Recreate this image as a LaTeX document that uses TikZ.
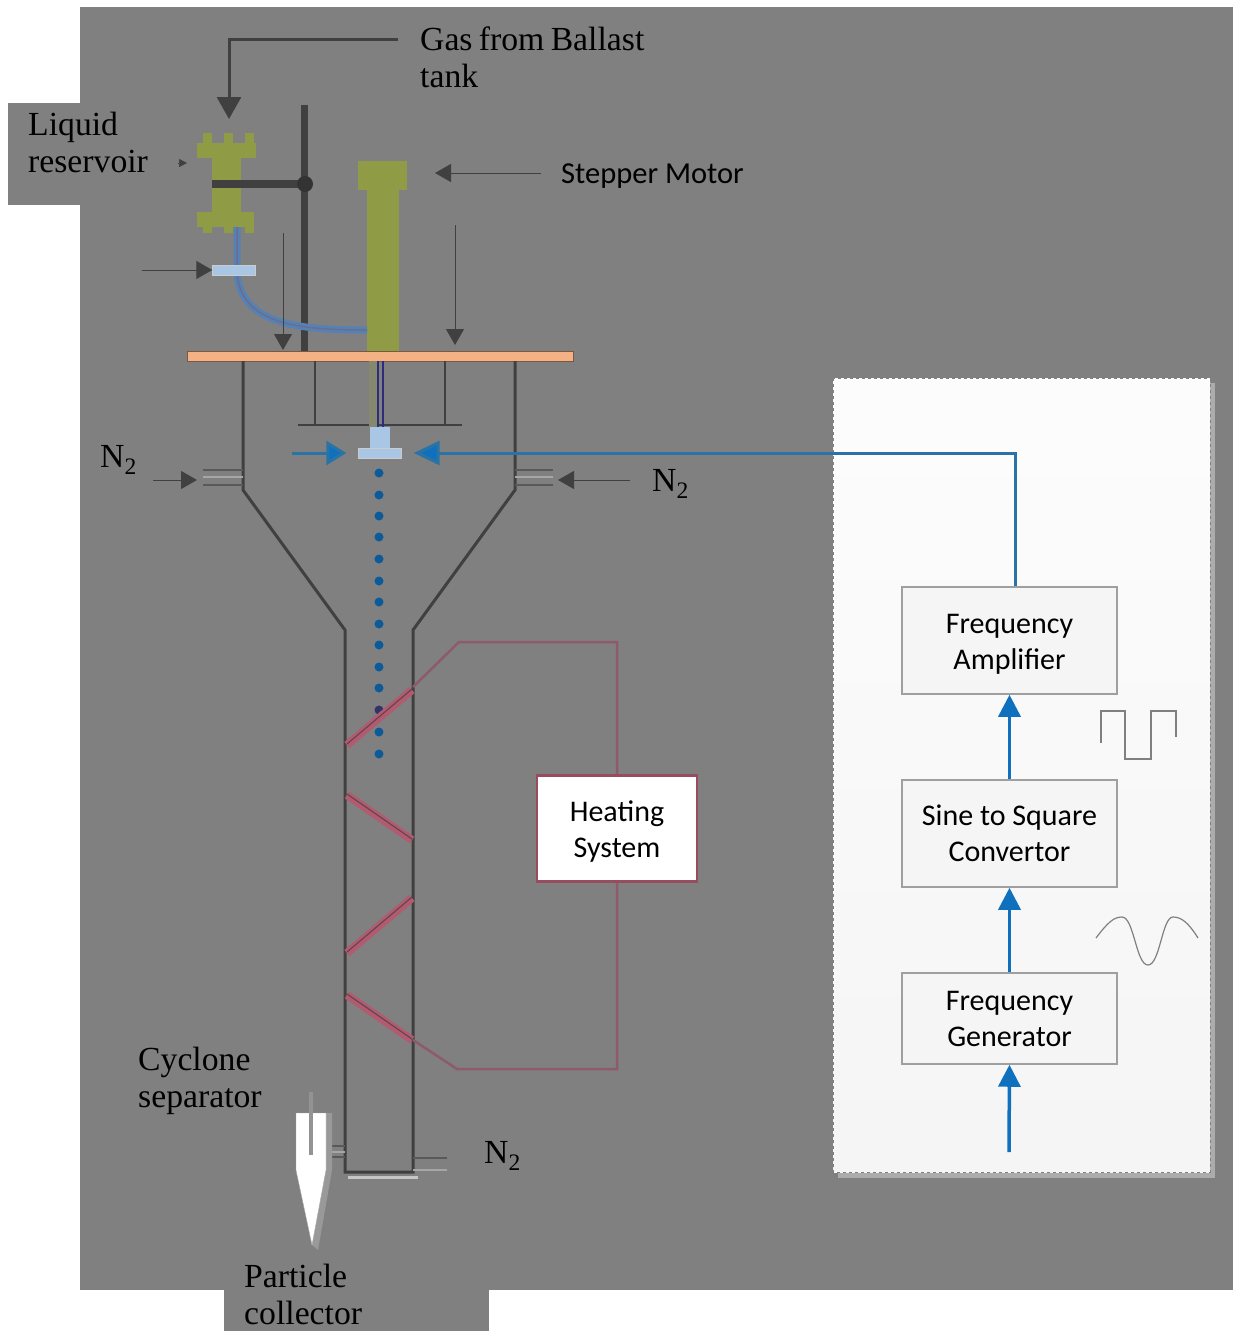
\documentclass[tikz,border=0pt]{standalone}
\usepackage{fontspec}
\usepackage{xcolor}
\setmainfont[WordSpace=0.75]{Liberation Serif}
\newfontfamily\boxfont{Carlito}
\usetikzlibrary{arrows.meta}

\definecolor{backgray}{HTML}{808080}
\definecolor{wallgray}{HTML}{404040}
\definecolor{olivebody}{HTML}{8F9C45}
\definecolor{platecolor}{HTML}{F4B183}
\definecolor{nozzleblue}{HTML}{A9C6E4}
\definecolor{flowblue}{HTML}{0F70BE}
\definecolor{wireblue}{HTML}{2A73A6}
\definecolor{tubeblue}{HTML}{5482B4}
\definecolor{heatred}{HTML}{B25A70}
\definecolor{wirered}{HTML}{8F5A6C}

\tikzset{
    labeltext/.style={align=left, anchor=west, inner sep=0pt, font=\fontsize{33.7}{37}\selectfont},
    blocktext/.style={draw=gray!75, line width=1.5pt, fill=black!4, align=center, minimum width=215pt, inner sep=0pt, font=\boxfont\fontsize{30}{36}\selectfont},
    thinarrow/.style={draw=wallgray, line width=1pt, -{Triangle[length=16pt,width=18pt]}},
    flowarrow/.style={draw=flowblue, line width=3.5pt, -{Triangle[length=22pt,width=22pt]}},
    signalarrow/.style={draw=wireblue, line width=3pt},
    coilband/.style={draw=heatred, line width=8pt},
    coilcore/.style={draw=wallgray!80!heatred, line width=1pt},
    portdark/.style={draw=black!65, line width=1.5pt},
    portlight/.style={draw=gray!70, line width=1.5pt}
}

\begin{document}
\begin{tikzpicture}[x=1pt,y=-1pt]
    \useasboundingbox (0,0) rectangle (1235,1331);

    % Draw the backing areas
    \fill[backgray] (80,7) rectangle (1233,1290);
    \fill[backgray] (8,103) rectangle (80,205);
    \fill[backgray] (224,1290) rectangle (489,1331);
    \fill[gray!65] (838,1172) rectangle (1215,1178);
    \fill[gray!65] (1210,383) rectangle (1215,1178);
    \shade[top color=black!1, bottom color=black!4] (833,378) rectangle (1210,1172);
    \draw[gray, dashed] (833,378) rectangle (1210,1172);

    % Draw the post and the liquid reservoir
    \fill[olivebody] (197,143) rectangle (256,158);
    \fill[olivebody] (203,133) rectangle (212,143);
    \fill[olivebody] (224,133) rectangle (233,143);
    \fill[olivebody] (245,133) rectangle (254,143);
    \fill[olivebody] (212,158) rectangle (241,212);
    \fill[olivebody] (197,212) rectangle (254,227);
    \fill[olivebody] (203,227) rectangle (212,233);
    \fill[olivebody] (224,227) rectangle (233,233);
    \fill[olivebody] (245,227) rectangle (254,233);
    \draw[wallgray, line width=7pt] (304,105) -- (304,351);
    \draw[wallgray, line width=8pt] (212,184) -- (302,184);
    \fill[wallgray!80!black] (305,184) circle (8);

    % Draw the stepper motor
    \fill[olivebody] (358,161) rectangle (407,190);
    \fill[olivebody] (367,190) rectangle (399,351);

    % Draw the liquid tube and its valve
    \draw[tubeblue, line width=7pt] (237,227) -- (237,272) .. controls (240,325) and (300,330) .. (367,330);
    \draw[gray!85!blue, line width=1.5pt] (237,227) -- (237,272) .. controls (240,325) and (300,330) .. (367,330);
    \node[draw=gray!40, fill=nozzleblue, minimum width=43pt, minimum height=10pt, inner sep=0pt] (valve) at (234,270) {};

    % Draw the plate
    \fill[platecolor, draw=black!50!platecolor] (187,351) rectangle (573,361);

    % Draw the vessel
    \draw[wallgray, line width=3pt] (243,361) -- (243,490) -- (345,630) -- (345,1172) -- (413,1172) -- (413,630) -- (515,490) -- (515,361);
    \draw[wallgray, line width=2.5pt] (315,361) -- (315,425);
    \draw[wallgray, line width=2.5pt] (445,361) -- (445,425);
    \draw[wallgray, line width=2pt] (298,425) -- (462,425);
    \draw[gray!70!olivebody, line width=8pt] (373,361) -- (373,427);
    \draw[wallgray!70!blue, line width=2pt] (378,361) -- (378,427);
    \draw[wallgray!70!blue, line width=2pt] (383,361) -- (383,427);

    % Draw the nozzle
    \fill[nozzleblue] (370,427) rectangle (390,448);
    \node[draw=gray!40, fill=nozzleblue, minimum width=43pt, minimum height=10pt, inner sep=0pt] (nozzle) at (380,453) {};

    % Draw the droplets
    \fill[flowblue!80!black] (379,473) circle (4.5);
    \fill[flowblue!80!black] (379,495) circle (4.5);
    \fill[flowblue!80!black] (379,516) circle (4.5);
    \fill[flowblue!80!black] (379,537) circle (4.5);
    \fill[flowblue!80!black] (379,559) circle (4.5);
    \fill[flowblue!80!black] (379,581) circle (4.5);
    \fill[flowblue!80!black] (379,602) circle (4.5);
    \fill[flowblue!80!black] (379,624) circle (4.5);
    \fill[flowblue!80!black] (379,645) circle (4.5);
    \fill[flowblue!80!black] (379,667) circle (4.5);
    \fill[flowblue!80!black] (379,688) circle (4.5);
    \fill[wallgray!80!blue] (379,710) circle (4.5);
    \fill[flowblue!80!black] (379,732) circle (4.5);
    \fill[flowblue!80!black] (379,754) circle (4.5);

    % Draw the gas ports
    \draw[portdark] (203,470) -- (243,470);
    \draw[portlight] (203,477) -- (243,477);
    \draw[portdark] (203,485) -- (243,485);
    \draw[portdark] (515,470) -- (553,470);
    \draw[portlight] (515,477) -- (553,477);
    \draw[portdark] (515,485) -- (553,485);
    \draw[portdark] (326,1146) -- (345,1146);
    \draw[portlight] (326,1152) -- (345,1152);
    \draw[portdark] (326,1157) -- (345,1157);
    \draw[portdark] (413,1158) -- (447,1158);
    \draw[portlight] (413,1170) -- (447,1170);
    \draw[gray!45, line width=3pt] (348,1177) -- (418,1177);

    % Draw the cyclone separator
    \fill[gray!80] (326,1113) -- (332,1113) -- (332,1170) -- (318,1250) -- (312,1245) -- cycle;
    \fill[white, draw=gray!70] (296,1113) -- (326,1113) -- (326,1170) -- (312,1245) -- (296,1170) -- cycle;
    \draw[gray!85, line width=4pt] (311,1092) -- (311,1155);

    % Draw the heating coil
    \draw[coilband] (347,745) -- (412,690);
    \draw[coilcore] (347,744) -- (412,689);
    \draw[coilband] (347,795) -- (412,840);
    \draw[coilcore] (347,794) -- (412,839);
    \draw[coilband] (347,953) -- (412,898);
    \draw[coilcore] (347,952) -- (412,897);
    \draw[coilband] (347,995) -- (412,1040);
    \draw[coilcore] (347,994) -- (412,1039);

    % Draw the boxes
    \node[draw=heatred!85!black, line width=2.5pt, fill=white, align=center, minimum width=160pt, minimum height=106pt, inner sep=0pt, font=\boxfont\fontsize{30}{36}\selectfont] (heating) at (617,828.5) {\rule{0pt}{26pt}Heating\\System};
    \node[blocktext, minimum height=107pt] (amplifier) at (1009.5,640.5) {\rule{0pt}{26pt}Frequency\\Amplifier};
    \node[blocktext, minimum height=107pt] (convertor) at (1009.5,833.5) {Sine to Square\\Convertor};
    \node[blocktext, minimum height=91pt] (generator) at (1009.5,1018.5) {Frequency\\Generator};

    % Draw the wire of the heating system
    \coordinate (coiltop) at (413,687);
    \coordinate (wiretop) at (459,642);
    \coordinate (cornertop) at (617,642);
    \coordinate (coilend) at (413,1040);
    \coordinate (wirebottom) at (457,1069);
    \coordinate (cornerbottom) at (617,1069);
    \draw[wirered, line width=2.5pt] (coiltop) -- (wiretop) -- (cornertop) -- (heating.north);
    \draw[wirered, line width=2.5pt] (coilend) -- (wirebottom) -- (cornerbottom) -- (heating.south);

    % Draw the arrows of the signal chain
    \coordinate (signalin) at (1009,1152);
    \coordinate (ampout) at (1015,586);
    \coordinate (signalbend) at (1015,453);
    \coordinate (flowleft) at (292,453);
    \draw[flowarrow] (signalin) -- (generator.south);
    \draw[flowarrow] (generator.north) -- (convertor.south);
    \draw[flowarrow] (convertor.north) -- (amplifier.south);
    \draw[signalarrow, shorten >=12pt, -{Triangle[length=26pt,width=24pt,fill=flowblue]}] (ampout) -- (signalbend) -- (nozzle.east);
    \draw[signalarrow, shorten >=12pt, -{Triangle[length=20pt,width=24pt,fill=flowblue]}] (flowleft) -- (nozzle.west);

    % Draw the waveforms
    \draw[gray, line width=1.2pt] (1101,743) -- (1101,711) -- (1125,711) -- (1125,759) -- (1151,759) -- (1151,711) -- (1176,711) -- (1176,737);
    \draw[gray, line width=1.2pt] (1096,938) .. controls (1108,922) and (1114,917) .. (1122,917) .. controls (1134,917) and (1136,965) .. (1148,965) .. controls (1160,965) and (1162,917) .. (1173,917) .. controls (1181,917) and (1188,922) .. (1198,938);

    % Draw the labels
    \node[labeltext] (gastext) at (420,57) {Gas from Ballast\\tank};
    \node[labeltext] (liquidtext) at (28,142) {Liquid\\reservoir};
    \node[labeltext] (cyclonetext) at (138,1081) {Cyclone\\separator};
    \node[labeltext] (particletext) at (244,1294) {Particle\\collector};
    \node[anchor=west, inner sep=0pt, font=\boxfont\fontsize{30.5}{36}\selectfont] (motortext) at (561,176) {Stepper Motor};
    \node[labeltext] (leftgas) at (100,460) {N\textsubscript{2}};
    \node[labeltext] (rightgas) at (652,484) {N\textsubscript{2}};
    \node[labeltext] (bottomgas) at (484,1156) {N\textsubscript{2}};

    % Draw the gas arrows
    \coordinate (gasfrom) at (398,39);
    \coordinate (gasbend) at (229,39);
    \coordinate (gastip) at (229,119);
    \coordinate (motortip) at (435,173);
    \coordinate (valvefrom) at (142,270);
    \coordinate (leftfrom) at (153,480);
    \coordinate (lefttip) at (197,480);
    \coordinate (rightfrom) at (630,480);
    \coordinate (righttip) at (558,480);
    \coordinate (downleft) at (283,233);
    \coordinate (downlefttip) at (283,350);
    \coordinate (downright) at (455,225);
    \coordinate (downrighttip) at (455,345);
    \coordinate (motorfrom) at (541,173);
    \coordinate (liquidfrom) at (178,163);
    \coordinate (liquidtip) at (187,163);
    \draw[wallgray, line width=3pt, -{Triangle[length=22pt,width=24pt]}] (gasfrom) -- (gasbend) -- (gastip);
    \draw[thinarrow] (motorfrom) -- (motortip);
    \draw[thinarrow] (valvefrom) -- (valve.west);
    \draw[thinarrow] (leftfrom) -- (lefttip);
    \draw[thinarrow] (rightfrom) -- (righttip);
    \draw[thinarrow] (downleft) -- (downlefttip);
    \draw[thinarrow] (downright) -- (downrighttip);
    \draw[draw=wallgray, line width=0.5pt, -{Triangle[length=8pt,width=8pt]}] (liquidfrom) -- (liquidtip);
\end{tikzpicture}
\end{document}
